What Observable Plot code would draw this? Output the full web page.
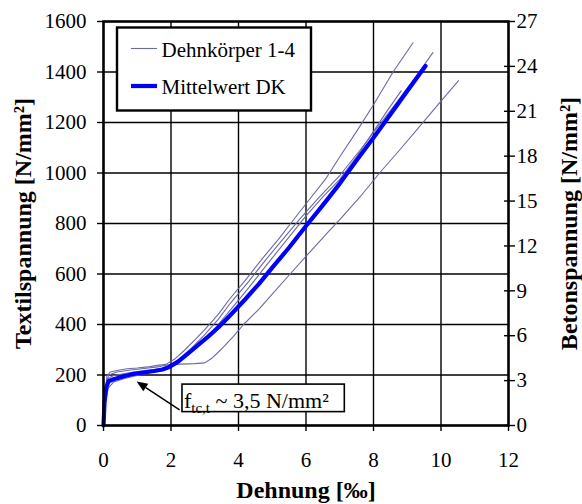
<!DOCTYPE html>
<html>
<head>
<meta charset="utf-8">
<script src="https://cdn.jsdelivr.net/npm/d3@7"></script>
<script src="https://cdn.jsdelivr.net/npm/@observablehq/plot@0.6"></script>
<style>
  html, body { margin: 0; padding: 0; background: white; }
  #chart svg text { font-family: 'Liberation Serif', 'Times New Roman', serif !important; }
</style>
</head>
<body>
<div id="chart"></div>
<script>
// ---- data ----
const xTicks = [0, 2, 4, 6, 8, 10, 12];
const yTicks = [0, 200, 400, 600, 800, 1000, 1200, 1400, 1600];
const rTicks = [0, 3, 6, 9, 12, 15, 18, 21, 24, 27];
const rMax = 27, yMax = 1600;

const seriesNames = ["Dehnkörper 1-4", "Mittelwert DK"];

const c1x = [0, 0.04, 0.1, 0.2, 0.4, 0.7, 1.0, 1.3, 1.6, 1.85, 2.1, 2.4, 2.7, 3.0, 3.4, 3.75, 4.2, 4.7, 5.2, 5.62, 6.1, 6.6, 7.03, 7.5, 8.0, 8.58, 9.17];
const c1y = [0, 120, 195, 212, 218, 225, 228, 232, 238, 242, 262, 298, 338, 380, 440, 503, 575, 660, 740, 813, 895, 980, 1070, 1165, 1270, 1400, 1516];

const c2x = [0, 0.05, 0.12, 0.3, 0.6, 0.9, 1.2, 1.5, 1.8, 2.0, 2.3, 2.6, 3.0, 3.4, 3.75, 4.3, 4.8, 5.3, 5.8, 6.4, 7.0, 7.6, 8.2, 8.8, 9.3, 9.76];
const c2y = [0, 130, 185, 198, 205, 212, 218, 222, 228, 240, 270, 305, 360, 420, 483, 570, 655, 735, 815, 905, 990, 1090, 1195, 1300, 1390, 1477];

const c3x = [0, 0.05, 0.15, 0.4, 0.8, 1.2, 1.6, 1.9, 2.3, 2.7, 3.0, 3.2, 3.46, 3.85, 4.15, 4.6, 5.0, 5.53, 6.1, 6.7, 7.0, 7.6, 8.18, 8.8, 9.4, 10.0, 10.52];
const c3y = [0, 140, 200, 212, 220, 226, 232, 240, 243, 245, 248, 265, 298, 353, 400, 460, 520, 600, 685, 773, 815, 905, 1000, 1095, 1190, 1285, 1366];

const c4x = [0, 0.06, 0.15, 0.3, 0.6, 0.9, 1.2, 1.5, 1.8, 2.0, 2.3, 2.7, 3.0, 3.4, 3.75, 4.3, 4.8, 5.4, 6.0, 6.5, 7.0, 7.5, 8.0, 8.4, 8.82];
const c4y = [0, 100, 150, 172, 185, 195, 205, 212, 222, 235, 262, 305, 340, 400, 456, 545, 630, 730, 830, 905, 975, 1065, 1165, 1245, 1325];

const mx = [0, 0.03, 0.08, 0.15, 0.3, 0.6, 0.9, 1.2, 1.5, 1.75, 1.95, 2.2, 2.5, 2.8, 3.1, 3.4, 3.75, 4.2, 4.6, 5.0, 5.5, 6.0, 6.5, 7.0, 7.5, 8.0, 8.5, 9.0, 9.54];
const my = [0, 90, 150, 175, 183, 195, 205, 210, 216, 222, 232, 252, 285, 318, 352, 388, 436, 500, 560, 625, 705, 790, 873, 958, 1050, 1140, 1232, 1325, 1424];

// annotation (data units)
const noteText = {main: "f", sub: "tc,t", rest: " ~ 3,5 N/mm²"};
const noteBox = {x1: 2.34, x2: 7.15, y1: 53, y2: 162};
const noteArrow = {x1: 2.27, y1: 60, x2: 0.995, y2: 172};

// ---- build tables ----
const curves = [[c1x, c1y], [c2x, c2y], [c3x, c3y], [c4x, c4y]]
  .flatMap(([xs, ys], k) => xs.map((x, i) => ({id: k + 1, x, y: ys[i]})));
const mean = mx.map((x, i) => ({x, y: my[i]}));

const thin = "#6a6aa6";
const thick = "#0000ff";
const font = "'Liberation Serif', 'Times New Roman', serif";
const axisFont = {fontFamily: font, fontSize: 21, fontVariant: "normal", label: null, strokeWidth: 1.4};

const chart = Plot.plot({
  width: 582,
  height: 504,
  marginLeft: 103,
  marginRight: 74,
  marginTop: 21,
  marginBottom: 79,
  style: {fontFamily: font, fontSize: "21px", background: "white", color: "black", overflow: "visible"},
  x: {domain: [0, 12]},
  y: {domain: [0, yMax]},
  marks: [
    Plot.gridX(xTicks.slice(1, -1), {stroke: "black", strokeOpacity: 1, strokeWidth: 1.4}),
    Plot.gridY(yTicks.slice(1, -1), {stroke: "black", strokeOpacity: 1, strokeWidth: 1.4}),
    Plot.axisX(xTicks, {...axisFont, tickSize: 6, tickPadding: 21, tickFormat: d => String(d)}),
    Plot.axisY(yTicks, {...axisFont, anchor: "left", tickSize: 6, tickPadding: 11, tickFormat: d => String(d)}),
    Plot.axisY(rTicks.map(v => v * yMax / rMax), {
      ...axisFont, anchor: "right", tickSize: 11, dx: -5, tickPadding: 2,
      tickFormat: d => String(Math.round(d * rMax / yMax))
    }),
    Plot.line(curves, {x: "x", y: "y", z: "id", stroke: thin, strokeWidth: 1.1}),
    Plot.line(mean, {x: "x", y: "y", stroke: thick, strokeWidth: 4.2}),
    Plot.rect([noteBox], {x1: "x1", x2: "x2", y1: "y1", y2: "y2", fill: "white", stroke: "black", strokeWidth: 1.6}),
    Plot.frame({stroke: "black", strokeWidth: 2.6}),
    Plot.text(["Dehnung [‰]"], {frameAnchor: "bottom", dy: 65, lineAnchor: "middle", textAnchor: "middle", fontFamily: font, fontWeight: "bold", fontSize: 24}),
    Plot.text(["Textilspannung [N/mm²]"], {frameAnchor: "left", dx: -80, rotate: -90, lineAnchor: "middle", textAnchor: "middle", fontFamily: font, fontWeight: "bold", fontSize: 24}),
    Plot.text(["Betonspannung [N/mm²]"], {frameAnchor: "right", dx: 61, rotate: -90, lineAnchor: "middle", textAnchor: "middle", fontFamily: font, fontWeight: "bold", fontSize: 24})
  ]
});

document.getElementById("chart").appendChild(chart);

// ---- annotation text and arrow via the chart's scales ----
const sx = chart.scale("x"), sy = chart.scale("y");
const svg = d3.select(chart);
svg.attr("font-family", font);
svg.selectAll("text").attr("font-family", font);
const ann = svg.append("g").attr("font-family", font).attr("text-anchor", "start");
const t = ann.append("text")
  .attr("x", sx.apply(noteBox.x1) + 2)
  .attr("y", sy.apply(noteBox.y1) - 4)
  .attr("font-size", 22).attr("fill", "black");
t.append("tspan").text(noteText.main);
t.append("tspan").attr("font-size", 15).attr("dy", 5).text(noteText.sub);
t.append("tspan").attr("dy", -5).text(noteText.rest);

const ax1 = sx.apply(noteArrow.x1), ay1 = sy.apply(noteArrow.y1);
const ax2 = sx.apply(noteArrow.x2), ay2 = sy.apply(noteArrow.y2);
const ang = Math.atan2(ay2 - ay1, ax2 - ax1);
const hl = 11, hw = 4.5;
const bx = ax2 - hl * Math.cos(ang), by = ay2 - hl * Math.sin(ang);
ann.append("line").attr("x1", ax1).attr("y1", ay1).attr("x2", bx).attr("y2", by)
  .attr("stroke", "black").attr("stroke-width", 1.5);
ann.append("path")
  .attr("d", `M${ax2},${ay2}L${bx + hw * Math.sin(ang)},${by - hw * Math.cos(ang)}L${bx - hw * Math.sin(ang)},${by + hw * Math.cos(ang)}Z`)
  .attr("fill", "black");

// ---- legend ----
const lg = svg.append("g").attr("font-family", font).attr("font-size", 21).attr("text-anchor", "start");
lg.append("rect").attr("x", 117).attr("y", 27.5).attr("width", 194).attr("height", 83)
  .attr("fill", "white").attr("stroke", "black").attr("stroke-width", 2.4);
const rows = [{name: seriesNames[0], color: thin, w: 1.1, y: 48.5}, {name: seriesNames[1], color: thick, w: 4.2, y: 86}];
for (const r of rows) {
  lg.append("line").attr("x1", 131).attr("x2", 157).attr("y1", r.y).attr("y2", r.y)
    .attr("stroke", r.color).attr("stroke-width", r.w);
  lg.append("text").attr("x", 161.5).attr("y", r.y + 8).attr("fill", "black").text(r.name);
}
</script>
</body>
</html>
